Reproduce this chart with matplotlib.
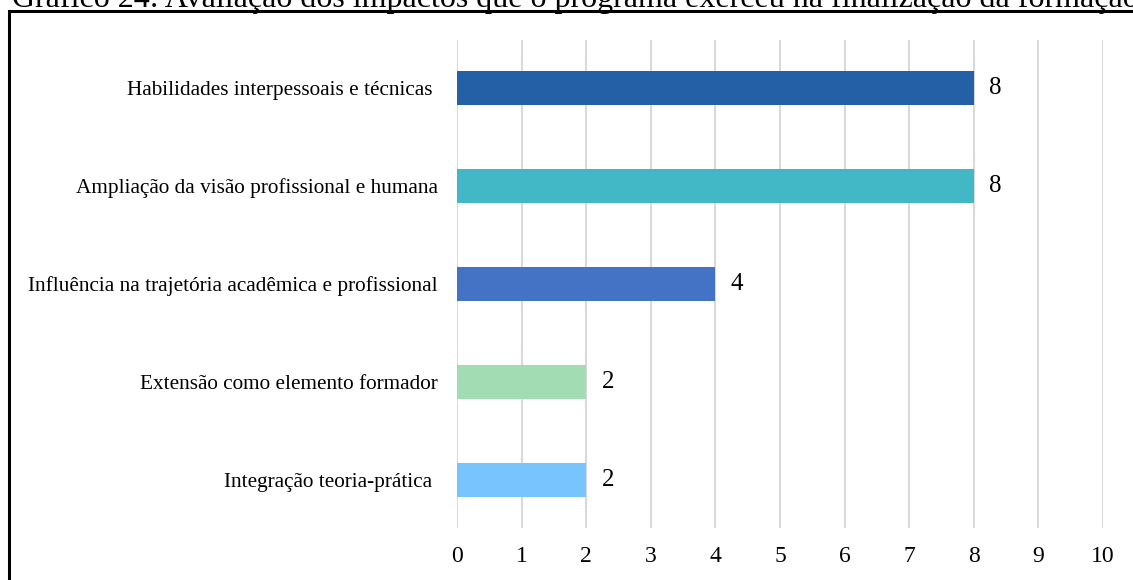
import matplotlib.pyplot as plt
from matplotlib.patches import Rectangle

categorias = ["Integração teoria-prática ", "Extensão como elemento formador",
              "Influência na trajetória acadêmica e profissional",
              "Ampliação da visão profissional e humana",
              "Habilidades interpessoais e técnicas "]
valores = [2, 2, 4, 8, 8]
cores = ["#78C4FF", "#A2DCB3", "#4472C4", "#42B8C6", "#2360A5"]
xticks = list(range(0, 11))
titulo = "Gráfico 24: Avaliação dos impactos que o programa exerceu na finalização da formação"

plt.rcParams['font.family'] = ['Liberation Serif', 'DejaVu Serif']

W, H = 1133, 580
fig = plt.figure(figsize=(W / 100, H / 100), dpi=100)
ax = fig.add_axes([457 / W, 1 - 528 / H, (1103 - 457) / W, (528 - 40) / H])

pos = list(range(len(categorias)))
ax.barh(pos, valores, height=0.35, color=cores, zorder=3)
for p, v in zip(pos, valores):
    ax.annotate(str(v), (v, p), xytext=(11, 0), textcoords='offset points',
                va='center', ha='left', fontsize=18)

ax.set_xlim(0, 10)
ax.set_ylim(-0.49, 4.49)
ax.set_xticks(xticks)
ax.set_yticks(pos)
ax.set_yticklabels(categorias)
ax.tick_params(axis='both', length=0)
ax.tick_params(axis='x', pad=13, labelsize=17)
ax.tick_params(axis='y', pad=14, labelsize=15.3)
ax.grid(axis='x', color='#D9D9D9', linewidth=1.5, zorder=0)
for s in ax.spines.values():
    s.set_visible(False)

# moldura do gráfico (cortada à direita e embaixo)
fig.patches.append(Rectangle((9 / W, -0.2), 1.2, 1.2 - 11 / H, transform=fig.transFigure,
                             fill=False, edgecolor='black', linewidth=2.2))
fig.text(12 / W, 1 - 7 / H, titulo, fontsize=23, va='baseline', ha='left')

fig.savefig("out.png", dpi=100)
